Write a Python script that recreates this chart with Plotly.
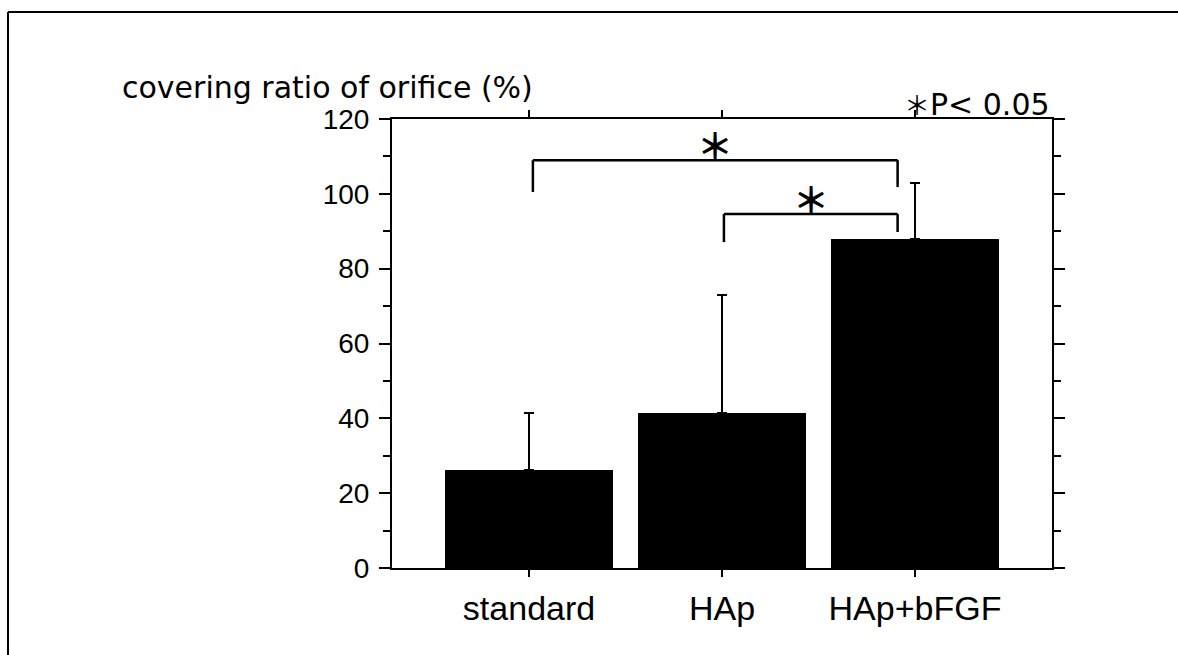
import plotly.graph_objects as go

# Group names, mean covering ratio (%) and upper SD
categories = ["standard", "HAp", "HAp+bFGF"]
means = [26.2, 41.4, 87.9]
sd_upper = [15.2, 31.6, 15.0]
sd_lower = [0, 0, 0]

y_ticks = [0, 20, 40, 60, 80, 100, 120]

# Significance brackets: (left group, right group, bar height, left leg end, right leg end)
brackets = [
    (0.02, 1.91, 109.0, 100.5, 101.8),
    (1.01, 1.91, 94.6, 87.1, 89.8),
]

W, H = 1178, 655
ML, MR, MT, MB = 392, 126, 119, 87
PW, PH = W - ML - MR, H - MT - MB

x_pos = list(range(len(categories)))

fig = go.Figure()
fig.add_trace(go.Bar(
    x=x_pos, y=means, width=0.87,
    marker=dict(color="black", line=dict(width=0)),
    error_y=dict(type="data", symmetric=False, array=sd_upper,
                 arrayminus=sd_lower, color="black", thickness=2.2, width=5),
    showlegend=False,
))

shapes = []
annotations = []
for xl, xr, yb, yl, yr in brackets:
    for x0, y0, x1, y1 in [(xl, yl, xl, yb), (xl, yb, xr, yb), (xr, yb, xr, yr)]:
        shapes.append(dict(type="line", xref="x", yref="y", x0=x0, y0=y0, x1=x1, y1=y1,
                           line=dict(color="black", width=2.5)))
    annotations.append(dict(x=(xl + xr) / 2, y=yb, xref="x", yref="y", text="＊",
                            showarrow=False, yanchor="bottom", yshift=-12,
                            font=dict(family="Noto Sans CJK JP", size=36, color="black",
                                      weight="bold")))

# outer frame (top and left edges)
fx = -(ML - 8) / PW
fy = 1 + (MT - 12) / PH
shapes.append(dict(type="line", xref="paper", yref="paper", x0=fx, y0=fy, x1=(W - ML) / PW, y1=fy,
                   line=dict(color="black", width=2)))
shapes.append(dict(type="line", xref="paper", yref="paper", x0=fx, y0=fy, x1=fx, y1=-(MB) / PH,
                   line=dict(color="black", width=2)))

annotations.append(dict(x=-(ML - 120) / PW, y=1 + (568 - 88 - PH) / PH, xref="paper", yref="paper",
                        text="covering ratio of orifice (%)", showarrow=False,
                        xanchor="left", yanchor="middle",
                        font=dict(family="DejaVu Sans", size=30, color="black")))
annotations.append(dict(x=1.0, y=1.0, xref="paper", yref="paper",
                        text="<span style='font-family:Noto Sans CJK JP;font-size:26px'>＊</span>P&lt; 0.05",
                        showarrow=False,
                        xanchor="right", yanchor="bottom", yshift=-5,
                        font=dict(family="DejaVu Sans", size=30, color="black")))

fig.update_layout(
    width=W, height=H,
    margin=dict(l=ML, r=MR, t=MT, b=MB),
    paper_bgcolor="white", plot_bgcolor="white",
    shapes=shapes, annotations=annotations,
    bargap=0,
)
fig.update_xaxes(
    range=[-0.71, 2.71], tickvals=x_pos, ticktext=categories,
    showline=True, linecolor="black", linewidth=2, mirror="ticks",
    ticks="outside", ticklen=7, tickwidth=2, tickcolor="black",
    showgrid=False, zeroline=False, ticklabelstandoff=2,
    tickfont=dict(family="Liberation Sans", size=34, color="black"),
)
fig.update_yaxes(
    range=[0, 120], tickvals=y_ticks,
    showline=True, linecolor="black", linewidth=2, mirror="ticks",
    ticks="outside", ticklen=11, tickwidth=2, tickcolor="black",
    minor=dict(dtick=10, ticks="outside", ticklen=7, tickwidth=2, tickcolor="black", showgrid=False),
    showgrid=False, zeroline=False, ticklabelstandoff=4,
    tickfont=dict(family="Liberation Sans", size=28, color="black"),
)

fig.write_html("out.html")
